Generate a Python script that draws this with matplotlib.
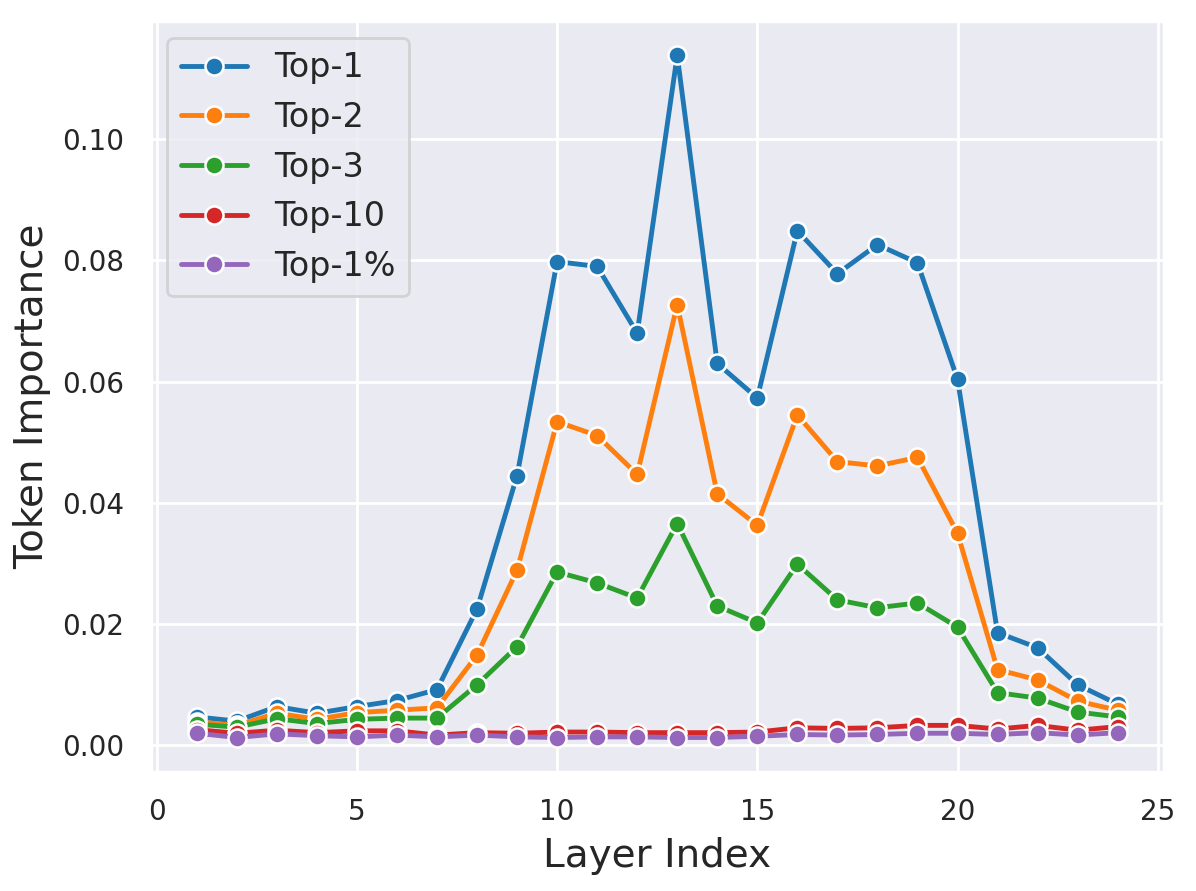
import matplotlib
matplotlib.use("Agg")
import matplotlib.pyplot as plt
import seaborn as sns

sns.set_theme(style="darkgrid")
plt.rcParams['font.family'] = ['DejaVu Sans']

layers = list(range(1, 25))

top1 = [0.0047, 0.0040, 0.0064, 0.0053, 0.0064, 0.0074, 0.0092, 0.0225,
        0.0445, 0.0798, 0.0790, 0.0680, 0.1138, 0.0630, 0.0573, 0.0849,
        0.0778, 0.0826, 0.0796, 0.0604, 0.0186, 0.0161, 0.0100, 0.0068]
top2 = [0.0039, 0.0033, 0.0053, 0.0043, 0.0054, 0.0058, 0.0062, 0.0149,
        0.0289, 0.0534, 0.0511, 0.0447, 0.0727, 0.0415, 0.0363, 0.0545,
        0.0468, 0.0461, 0.0475, 0.0350, 0.0125, 0.0108, 0.0073, 0.0058]
top3 = [0.0035, 0.0030, 0.0044, 0.0036, 0.0043, 0.0045, 0.0045, 0.0100,
        0.0163, 0.0286, 0.0268, 0.0243, 0.0366, 0.0230, 0.0202, 0.0299,
        0.0240, 0.0227, 0.0235, 0.0195, 0.0087, 0.0078, 0.0055, 0.0047]
top10 = [0.0026, 0.0020, 0.0025, 0.0021, 0.0024, 0.0024, 0.0017, 0.0021,
         0.0020, 0.0022, 0.0022, 0.0021, 0.0021, 0.0021, 0.0022, 0.0029,
         0.0028, 0.0029, 0.0033, 0.0033, 0.0027, 0.0033, 0.0025, 0.0031]
top1pct = [0.0020, 0.0013, 0.0019, 0.0016, 0.0014, 0.0017, 0.0014, 0.0017,
           0.0014, 0.0013, 0.0014, 0.0014, 0.0013, 0.0013, 0.0015, 0.0018,
           0.0017, 0.0018, 0.0020, 0.0020, 0.0018, 0.0021, 0.0017, 0.0021]

series = [("Top-1", top1), ("Top-2", top2), ("Top-3", top3),
          ("Top-10", top10), ("Top-1%", top1pct)]
colors = sns.color_palette("tab10")

fig, ax = plt.subplots(figsize=(5.98, 4.455), dpi=200)
fig.subplots_adjust(left=0.126, right=0.973, bottom=0.134, top=0.976)

for i, (name, vals) in enumerate(series):
    ax.plot(layers, vals, marker='o', color=colors[i], label=name,
            linewidth=1.75, markersize=6.5, markeredgecolor='white',
            markeredgewidth=0.9)

ax.set_xlabel("Layer Index", fontsize=14)
ax.set_ylabel("Token Importance", fontsize=14)
ax.tick_params(axis='both', labelsize=10)
ax.set_xticks([0, 5, 10, 15, 20, 25])
ax.set_yticks([0.0, 0.02, 0.04, 0.06, 0.08, 0.10])
ax.legend(loc='upper left', fontsize=12)

fig.savefig("out.png", dpi=200)
